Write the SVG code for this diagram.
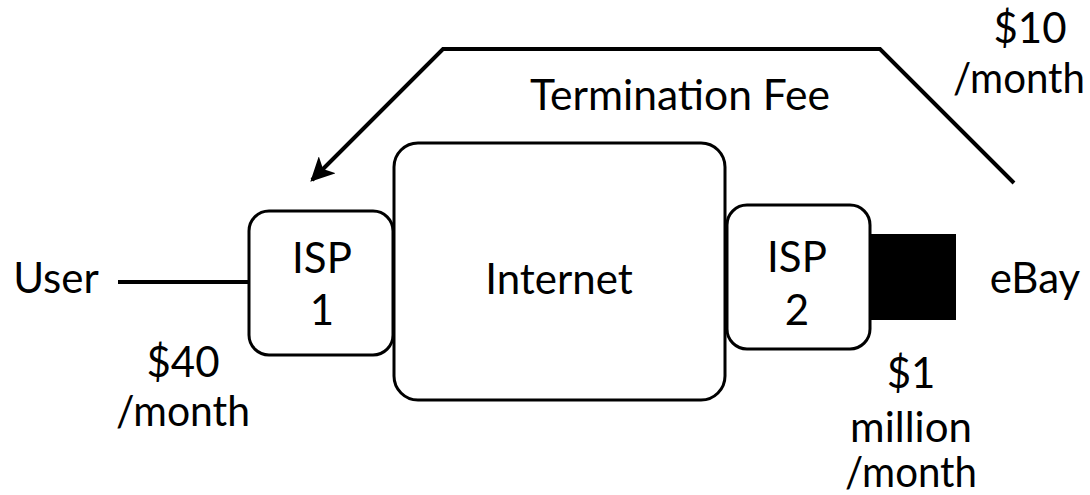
<svg xmlns="http://www.w3.org/2000/svg" width="1090" height="495" viewBox="0 0 1090 495">
<style>
text{font-family:Lato,"Noto Sans","Liberation Sans",sans-serif;font-size:42px;fill:#000;text-anchor:middle}
.box{fill:#fff;stroke:#000;stroke-width:3}
.ln{fill:none;stroke:#000;stroke-width:4}
</style>
<defs>
<marker id="ah" viewBox="0 0 10 10" refX="9" refY="5" markerWidth="6" markerHeight="6" markerUnits="strokeWidth" orient="auto">
<path d="M0,0 L10,5 L0,10 L2.5,5 z" fill="#000"/>
</marker>
</defs>
<rect width="1090" height="495" fill="#fff"/>
<g id="connectors">
<line class="ln" x1="118" y1="282" x2="249" y2="282" stroke-width="3"/>
<path class="ln" d="M1014,183 L880,49 L443,49 L312,180" marker-end="url(#ah)"/>
</g>
<g id="internet">
<rect class="box" x="394" y="143" width="331" height="257" rx="24"/>
<text x="559" y="294">Internet</text>
</g>
<g id="isp1">
<rect class="box" x="249" y="211" width="144" height="144" rx="20"/>
<text x="322" y="273">ISP</text>
<text x="322" y="325">1</text>
</g>
<g id="isp2">
<rect class="box" x="727" y="205" width="143" height="144" rx="20"/>
<text x="797" y="272">ISP</text>
<text x="797" y="325">2</text>
</g>
<g id="ebay-link">
<rect x="870" y="234" width="86" height="86" fill="#000"/>
</g>
<g id="labels">
<text x="56" y="293">User</text>
<text x="183" y="377">$40</text>
<text x="183" y="426" textLength="134" lengthAdjust="spacingAndGlyphs">/month</text>
<text x="680" y="110" textLength="300" lengthAdjust="spacingAndGlyphs">Termination Fee</text>
<text x="1030" y="43">$10</text>
<text x="1019" y="93" textLength="132" lengthAdjust="spacingAndGlyphs">/month</text>
<text x="1035" y="293">eBay</text>
<text x="911" y="388">$1</text>
<text x="911" y="442">million</text>
<text x="911" y="487" textLength="132" lengthAdjust="spacingAndGlyphs">/month</text>
</g>
</svg>
